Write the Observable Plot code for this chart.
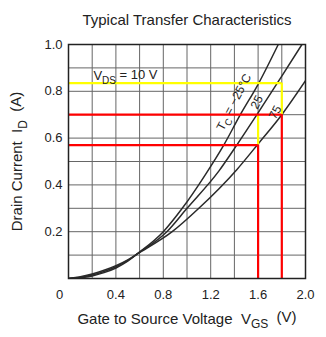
<!DOCTYPE html>
<html><head><meta charset="utf-8">
<script src="https://cdn.jsdelivr.net/npm/d3@7"></script>
<script src="https://cdn.jsdelivr.net/npm/@observablehq/plot@0.6"></script>
<style>
body{margin:0;background:#fff;}
svg text{white-space:pre;}
</style>
</head><body><div id="chart"></div>
<script>
// Curves: Tc = -25, 25, 75 °C  (VGS in V, ID in A)
const vM25 = [0, 0.1, 0.2, 0.3, 0.4, 0.5, 0.58, 0.8, 0.96, 1.15, 1.31, 1.45, 1.6, 1.77];
const iM25 = [0, 0.003, 0.011, 0.025, 0.045, 0.074, 0.105, 0.20, 0.30, 0.44, 0.57, 0.70, 0.83, 1.0];
const v25 = [0, 0.1, 0.2, 0.3, 0.4, 0.5, 0.58, 0.83, 1.0, 1.27, 1.42, 1.59, 1.8, 1.97];
const i25 = [0, 0.005, 0.015, 0.030, 0.050, 0.077, 0.105, 0.20, 0.30, 0.46, 0.57, 0.70, 0.865, 1.0];
const v75 = [0, 0.1, 0.2, 0.3, 0.4, 0.5, 0.58, 0.875, 1.10, 1.42, 1.6, 1.8, 2.0];
const i75 = [0, 0.007, 0.019, 0.035, 0.055, 0.080, 0.105, 0.20, 0.30, 0.465, 0.575, 0.70, 0.845];

// Reference (guide) values
const guideVgs = [1.6, 1.8];
const guideId = [0.57, 0.70, 0.835];

// Ticks
const xGrid = [0, 0.2, 0.4, 0.6, 0.8, 1.0, 1.2, 1.4, 1.6, 1.8, 2.0];
const yGrid = [0, 0.1, 0.2, 0.3, 0.4, 0.5, 0.6, 0.7, 0.8, 0.9, 1.0];
const xLabels = [0.4, 0.8, 1.2, 1.6, 2.0];
const yLabels = [0.2, 0.4, 0.6, 0.8, 1.0];

const toRows = (vs, is) => vs.map((v, k) => ({v, i: is[k]}));
const curves = [toRows(vM25, iM25), toRows(v25, i25), toRows(v75, i75)];

const redH = [{y: guideId[1], x1: 0, x2: guideVgs[1]}, {y: guideId[0], x1: 0, x2: guideVgs[0]}];
const redV = [{x: guideVgs[1], y1: 0, y2: guideId[1]}, {x: guideVgs[0], y1: 0, y2: guideId[0]}];
const yelH = [{y: guideId[2], x1: 0, x2: guideVgs[1]}];
const yelV = [{x: guideVgs[1], y1: guideId[1], y2: guideId[2]}, {x: guideVgs[0], y1: guideId[0], y2: guideId[1]}];

const font = "'Liberation Sans', Arial, Helvetica, sans-serif";
const ink = "#222";

const plot = Plot.plot({
  width: 326, height: 337,
  marginLeft: 68, marginRight: 21, marginTop: 44, marginBottom: 59,
  x: {domain: [0, 2], axis: null},
  y: {domain: [0, 1], axis: null},
  style: {fontFamily: font, fontSize: "13px", color: ink, background: "#fff"},
  marks: [
    Plot.ruleX(xGrid, {x: d => d, stroke: "#666", strokeWidth: 1}),
    Plot.ruleY(yGrid, {y: d => d, stroke: "#666", strokeWidth: 1}),
    ...curves.map(c => Plot.line(c, {x: "v", y: "i", curve: "monotone-x", stroke: "#2a2a2a", strokeWidth: 1.5, clip: true})),
    Plot.ruleY(yelH, {y: "y", x1: "x1", x2: "x2", stroke: "#ffff00", strokeWidth: 2.2}),
    Plot.ruleX(yelV, {x: "x", y1: "y1", y2: "y2", stroke: "#ffff00", strokeWidth: 2.2}),
    Plot.ruleY(redH, {y: "y", x1: "x1", x2: "x2", stroke: "#ff0000", strokeWidth: 2.2}),
    Plot.ruleX(redV, {x: "x", y1: "y1", y2: "y2", stroke: "#ff0000", strokeWidth: 2.2}),
    Plot.frame({stroke: ink, strokeWidth: 1.5}),
    Plot.axisX(xLabels, {tickSize: 0, tickPadding: 11, tickFormat: d => d.toFixed(1), fontSize: 13, label: null}),
    Plot.axisY(yLabels, {tickSize: 0, tickPadding: 6, tickFormat: d => d.toFixed(1), fontSize: 13, label: null}),
    Plot.text(["0"], {x: 0, y: 0, text: d => d, dx: -9, dy: 16, fontSize: 13, fill: ink}),
    Plot.text(["Typical Transfer Characteristics"], {frameAnchor: "top", dy: -30, text: d => d, fontSize: 15, fill: ink}),
    Plot.text(["XLABEL"], {frameAnchor: "bottom", dy: 45, text: d => d, textAnchor: "middle", fontSize: 15, fill: ink}),
    Plot.text(["YLABEL"], {frameAnchor: "left", dx: -51, rotate: -90, text: d => d, textAnchor: "middle", fontSize: 15, fill: ink}),
    Plot.text(["VDSLABEL"], {x: 0.21, y: 0.835, dy: -3, text: d => d, textAnchor: "start", lineAnchor: "bottom", fontSize: 13, fill: ink}),
    Plot.text(["TCLABEL"], {x: 1.40, y: 0.752, rotate: -62, text: d => d, fontSize: 12, fill: ink}),
    Plot.text(["25"], {x: 1.59, y: 0.753, rotate: -62, text: d => d, fontSize: 12, fill: ink}),
    Plot.text(["75"], {x: 1.745, y: 0.71, rotate: -62, text: d => d, fontSize: 12, fill: ink})
  ]
});
document.getElementById("chart").appendChild(plot);

// rich text with subscripts
function rich(placeholder, parts, subSize) {
  d3.select(plot).selectAll("text").filter(function() { return this.textContent === placeholder; })
    .each(function() {
      const t = d3.select(this);
      t.text(null);
      let shifted = false;
      parts.forEach(([s, sub]) => {
        const sp = t.append("tspan").text(s);
        if (sub && !shifted) { sp.attr("dy", "0.35em").attr("font-size", subSize); shifted = true; }
        else if (!sub && shifted) { sp.attr("dy", "-0.35em"); shifted = false; }
      });
    });
}
rich("XLABEL", [["Gate to Source Voltage  V", false], ["GS", true], ["  (V)", false]], 12);
rich("YLABEL", [["Drain Current  I", false], ["D", true], ["  (A)", false]], 12);
rich("VDSLABEL", [["V", false], ["DS", true], [" = 10 V", false]], 10);
rich("TCLABEL", [["T", false], ["C", true], [" = −25°C", false]], 9.5);
</script>
</body></html>
